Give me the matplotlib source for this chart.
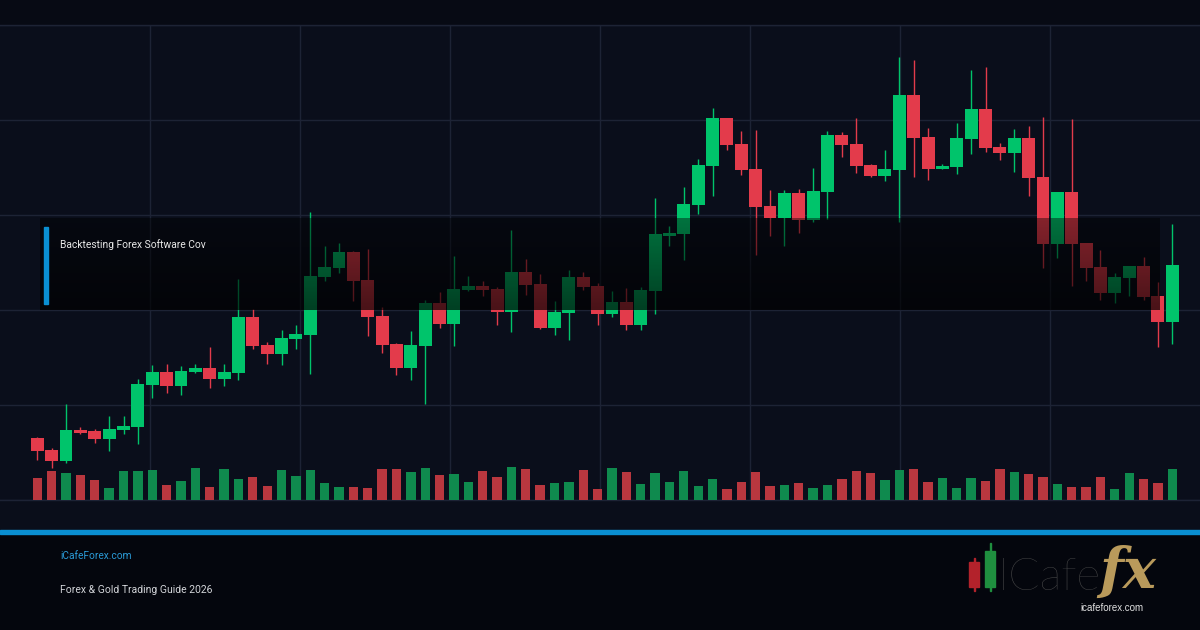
import numpy as np
import matplotlib
matplotlib.use("Agg")
from matplotlib import pyplot as plt
from matplotlib.patches import Rectangle

# price data (one candle per period)
open_ = [1.0862, 1.0850, 1.0839, 1.0870, 1.0869, 1.0861, 1.0870, 1.0873, 1.0915, 1.0928,
         1.0914, 1.0928, 1.0932, 1.0921, 1.0927, 1.0983, 1.0955, 1.0946, 1.0961, 1.0965,
         1.1023, 1.1032, 1.1048, 1.1020, 1.0984, 1.0956, 1.0932, 1.0954, 1.0997, 1.0976,
         1.1010, 1.1014, 1.1011, 1.0988, 1.1028, 1.1016, 1.0972, 1.0987, 1.1023, 1.1014,
         1.0986, 1.0998, 1.0975, 1.1009, 1.1064, 1.1066, 1.1095, 1.1134, 1.1182, 1.1156,
         1.1131, 1.1094, 1.1082, 1.1107, 1.1080, 1.1108, 1.1165, 1.1156, 1.1135, 1.1124,
         1.1130, 1.1205, 1.1163, 1.1131, 1.1133, 1.1161, 1.1191, 1.1153, 1.1147, 1.1162,
         1.1123, 1.1056, 1.1108, 1.1057, 1.1033, 1.1007, 1.1022, 1.1034, 1.1004, 1.0978]
high = [1.0863, 1.0852, 1.0896, 1.0873, 1.0871, 1.0884, 1.0884, 1.0921, 1.0935, 1.0936,
        1.0934, 1.0936, 1.0953, 1.0936, 1.1021, 1.0991, 1.0958, 1.0970, 1.0975, 1.1088,
        1.1054, 1.1057, 1.1049, 1.1051, 1.0993, 1.0957, 1.0969, 1.1000, 1.1008, 1.1044,
        1.1024, 1.1019, 1.1013, 1.1070, 1.1041, 1.1026, 1.0999, 1.1030, 1.1028, 1.1017,
        1.1009, 1.1012, 1.1013, 1.1102, 1.1074, 1.1113, 1.1141, 1.1192, 1.1182, 1.1169,
        1.1170, 1.1110, 1.1110, 1.1111, 1.1132, 1.1169, 1.1168, 1.1182, 1.1136, 1.1150,
        1.1243, 1.1240, 1.1172, 1.1136, 1.1177, 1.1230, 1.1233, 1.1157, 1.1171, 1.1174,
        1.1183, 1.1108, 1.1181, 1.1057, 1.1050, 1.1027, 1.1034, 1.1043, 1.1018, 1.1076]
low = [1.0840, 1.0832, 1.0837, 1.0866, 1.0857, 1.0849, 1.0866, 1.0856, 1.0902, 1.0907,
       1.0905, 1.0927, 1.0912, 1.0914, 1.0920, 1.0951, 1.0936, 1.0935, 1.0951, 1.0926,
       1.1019, 1.1027, 1.0999, 1.0964, 1.0947, 1.0925, 1.0920, 1.0896, 1.0972, 1.0954,
       1.1009, 1.1004, 1.0975, 1.0968, 1.1005, 1.0971, 1.0965, 1.0960, 1.1010, 1.0975,
       1.0983, 1.0970, 1.0970, 1.0986, 1.1054, 1.1040, 1.1086, 1.1104, 1.1150, 1.1125,
       1.1045, 1.1064, 1.1054, 1.1067, 1.1078, 1.1081, 1.1143, 1.1127, 1.1123, 1.1119,
       1.1078, 1.1123, 1.1120, 1.1131, 1.1126, 1.1146, 1.1148, 1.1140, 1.1128, 1.1104,
       1.1032, 1.1042, 1.1014, 1.1019, 1.1000, 1.0997, 1.1004, 1.1000, 1.0953, 1.0956]
close = [1.0849, 1.0839, 1.0870, 1.0867, 1.0861, 1.0871, 1.0874, 1.0916, 1.0928, 1.0914,
         1.0929, 1.0932, 1.0921, 1.0928, 1.0983, 1.0954, 1.0946, 1.0962, 1.0966, 1.1024,
         1.1033, 1.1048, 1.1019, 1.0983, 1.0955, 1.0932, 1.0955, 1.0997, 1.0976, 1.1011,
         1.1014, 1.1010, 1.0988, 1.1028, 1.1015, 1.0972, 1.0988, 1.1023, 1.1013, 1.0986,
         1.0998, 1.0975, 1.1010, 1.1066, 1.1067, 1.1096, 1.1135, 1.1182, 1.1155, 1.1130,
         1.1093, 1.1082, 1.1107, 1.1080, 1.1109, 1.1165, 1.1155, 1.1134, 1.1124, 1.1131,
         1.1205, 1.1162, 1.1131, 1.1134, 1.1162, 1.1191, 1.1152, 1.1147, 1.1162, 1.1122,
         1.1056, 1.1108, 1.1056, 1.1032, 1.1007, 1.1023, 1.1034, 1.1003, 1.0978, 1.1035]
volume = [2200, 2900, 2700, 2500, 2000, 1200, 2900, 2900, 3000, 1500,
          1900, 3200, 1300, 3100, 2100, 2300, 1400, 3000, 2400, 3000,
          1700, 1300, 1300, 1200, 3100, 3100, 2800, 3200, 2500, 2600,
          1800, 2900, 2300, 3300, 3100, 1500, 1700, 1800, 3000, 1100,
          3200, 2800, 1600, 2700, 1800, 2900, 1400, 2100, 1100, 1800,
          2800, 1400, 1500, 1700, 1200, 1500, 2100, 2900, 2700, 2000,
          3000, 3100, 1800, 2200, 1200, 2200, 1900, 3100, 2800, 2600,
          2300, 1600, 1300, 1300, 2300, 1100, 2700, 2100, 1700, 3100]

title = "Backtesting Forex Software Cov"
site = "iCafeForex.com"
subtitle = "Forex & Gold Trading Guide 2026"

GREEN = "#00c46b"
RED = "#e33b4b"
VGREEN = "#0f8a4e"
VRED = "#b9373f"
GRID = "#1d2335"
BG = "#0a0e1a"

W, H = 1200, 630


def fx(px):
    return px / W


def fy(py):
    return 1 - py / H


fig = plt.figure(figsize=(12, 6.3), dpi=100, facecolor=BG)

# header strip and footer
fig.add_artist(Rectangle((0, fy(25)), 1, 25 / H, transform=fig.transFigure,
                         color="#070a14", zorder=-5))
fig.add_artist(Rectangle((0, 0), 1, fy(533), transform=fig.transFigure,
                         color="#04060d", zorder=-5))
fig.add_artist(Rectangle((0, fy(534)), 1, 4 / H, transform=fig.transFigure,
                         color="#0a8fd2", zorder=2))

# price chart
ax = fig.add_axes([0, fy(500), 1, 475 / H])
ax.set_facecolor("#0a0e1b")
o = np.array(open_)
c = np.array(close)
hi = np.array(high)
lo = np.array(low)
x = np.arange(len(o))
up = c >= o
colors = np.where(up, GREEN, RED)

ax.vlines(x, lo, hi, colors=colors, linewidth=1.0, zorder=3)
ax.bar(x, np.abs(c - o), bottom=np.minimum(o, c), width=0.9, color=colors,
       linewidth=0, zorder=3)

ylo, yhi = 1.0800, 1.1275
ax.set_ylim(ylo, yhi)
step = 14.367
x0 = -37.3 / step
ax.set_xlim(x0, x0 + W / step)
ax.set_yticks(np.linspace(ylo, yhi, 6))
ax.set_xticks([x0 + k * 150 / step for k in range(1, 8)])
ax.grid(True, color=GRID, linewidth=1.0)
ax.set_axisbelow(True)
ax.tick_params(length=0, labelleft=False, labelbottom=False)
for side in ["left", "right"]:
    ax.spines[side].set_visible(False)
for side in ["top", "bottom"]:
    ax.spines[side].set_color(GRID)
    ax.spines[side].set_linewidth(1.0)

# volume bars
ax2 = ax.twinx()
ax2.bar(x, volume, width=0.65, color=np.where(up, VGREEN, VRED), linewidth=0,
        zorder=2)
ax2.set_ylim(0, 47500)
ax2.set_xlim(ax.get_xlim())
ax2.axis("off")

# title box overlay
ov = fig.add_axes([fx(40), fy(310), fx(1120), 92 / H], zorder=3)
alpha = np.linspace(0.42, 0.68, 64)[:, None] * np.ones((64, 4))
grad = np.zeros((64, 4, 4))
grad[..., 3] = alpha
ov.imshow(grad, aspect="auto", interpolation="bilinear")
ov.axis("off")
fig.add_artist(Rectangle((fx(44), fy(304)), 4 / W, 77 / H, transform=fig.transFigure,
                         color="#0a8fd2", zorder=4))
fig.text(fx(60), fy(245), title, color="#e8e8e8", fontsize=7.4, family="Roboto",
         va="center", zorder=5)

# footer texts
fig.text(fx(60), fy(556), site, color="#2a9ad6", fontsize=7.3, family="Roboto",
         va="center")
fig.text(fx(60), fy(590), subtitle, color="#d2d4d8", fontsize=7.5, family="Roboto",
         va="center")

# logo
fig.add_artist(Rectangle((fx(974) - 0.5 / W, fy(591)), 1 / W, 33 / H,
                         transform=fig.transFigure, color="#b3222b"))
fig.add_artist(Rectangle((fx(969), fy(587)), 10 / W, 25 / H,
                         transform=fig.transFigure, color="#b3222b"))
fig.add_artist(Rectangle((fx(990) - 0.5 / W, fy(591)), 1 / W, 48 / H,
                         transform=fig.transFigure, color="#1f8f3f"))
fig.add_artist(Rectangle((fx(985), fy(587)), 10 / W, 36 / H,
                         transform=fig.transFigure, color="#1f8f3f"))
fig.text(fx(998), fy(590), "ICafe", color="#4d4d4d", fontsize=33, family="Lato",
         fontweight="light", va="baseline")
fig.text(fx(1099), fy(588), "fx", color="#b99a5b", fontsize=40,
         family="DejaVu Serif", fontweight="bold", style="italic", va="baseline")
fig.text(fx(1112), fy(608), "icafeforex.com", color="#e0e0e0", fontsize=7,
         family="Liberation Sans", ha="center", va="center")

fig.savefig("out.png", dpi=100, facecolor=fig.get_facecolor())
